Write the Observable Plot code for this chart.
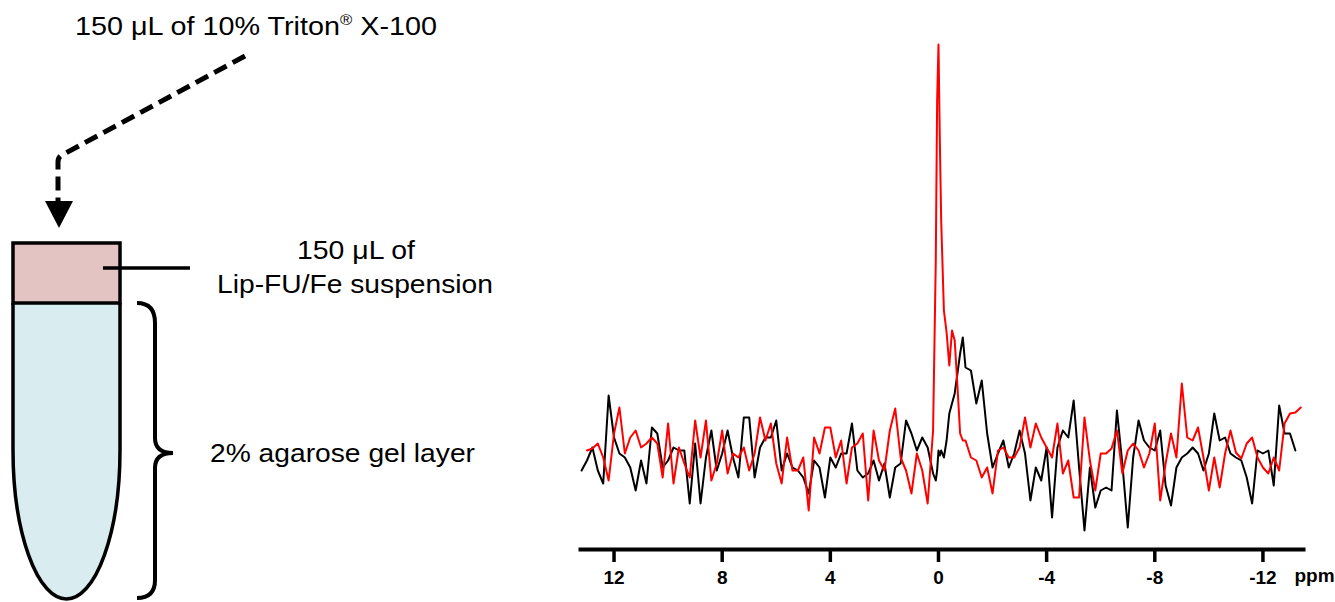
<!DOCTYPE html>
<html>
<head>
<meta charset="utf-8">
<script src="https://cdn.jsdelivr.net/npm/d3@7"></script>
<script src="https://cdn.jsdelivr.net/npm/@observablehq/plot@0.6"></script>
<style>
  html, body { margin: 0; padding: 0; background: #fff; }
  #wrap { position: relative; width: 1335px; height: 602px; overflow: hidden; }
  #chart, #diagram { position: absolute; left: 0; top: 0; }
  #diagram { pointer-events: none; }
  text { font-family: "Liberation Sans", Arial, Helvetica, sans-serif; }
</style>
</head>
<body>
<div id="wrap">
  <div id="chart"></div>
  <svg id="diagram" width="1335" height="602" xmlns="http://www.w3.org/2000/svg">
    <!-- tube body (agarose gel) -->
    <path d="M13,303 L13,450 A53.5,149 0 0 0 120,450 L120,303" fill="#d9ecef" stroke="#000" stroke-width="3.5"/>
    <!-- suspension layer -->
    <rect x="13" y="243" width="107" height="60" fill="#e4c3c3" stroke="#000" stroke-width="3.5"/>
    <!-- leader line -->
    <line x1="103" y1="268" x2="190" y2="268" stroke="#000" stroke-width="3.5"/>
    <!-- dashed arrow -->
    <path d="M245,56 L62,155 Q58,157 58,162 L58,201" fill="none" stroke="#000" stroke-width="5" stroke-dasharray="14 7"/>
    <polygon points="45,201 73,201 59,228" fill="#000"/>
    <!-- brace -->
    <path d="M137,303 Q155,303 155,323 L155,438 Q155,453 173,453 Q155,453 155,468 L155,580 Q155,598 137,598" fill="none" stroke="#000" stroke-width="4"/>
    <!-- labels -->
    <text x="75" y="35" font-size="26" textLength="362" lengthAdjust="spacingAndGlyphs">150 μL of 10% Triton<tspan font-size="15" dy="-10">®</tspan><tspan dy="10"> X-100</tspan></text>
    <text x="297" y="259" font-size="26" textLength="118" lengthAdjust="spacingAndGlyphs">150 μL of</text>
    <text x="217" y="293" font-size="26" textLength="276" lengthAdjust="spacingAndGlyphs">Lip-FU/Fe suspension</text>
    <text x="210" y="462" font-size="26" textLength="265" lengthAdjust="spacingAndGlyphs">2% agarose gel layer</text>
  </svg>
</div>
<script>
// Chemical shift axis (ppm), shared by both spectra
const ppm = [
  13.2, 13.0, 12.8, 12.6, 12.4, 12.2, 12.0, 11.8, 11.6, 11.4,
  11.2, 11.0, 10.8, 10.6, 10.4, 10.2, 10.0, 9.8, 9.6, 9.4,
  9.2, 9.0, 8.8, 8.6, 8.4, 8.2, 8.0, 7.8, 7.6, 7.4,
  7.2, 7.0, 6.8, 6.6, 6.4, 6.2, 6.0, 5.8, 5.6, 5.4,
  5.2, 5.0, 4.8, 4.6, 4.4, 4.2, 4.0, 3.8, 3.6, 3.4,
  3.2, 3.0, 2.8, 2.6, 2.4, 2.2, 2.0, 1.8, 1.6, 1.4,
  1.2, 1.0, 0.8, 0.6, 0.4, 0.2, 0.1, 0.05, 0.0, -0.05,
  -0.1, -0.2, -0.3, -0.4, -0.5, -0.6, -0.7, -0.8, -0.9, -1.0,
  -1.2, -1.4, -1.6, -1.8, -2.0, -2.2, -2.4, -2.6, -2.8, -3.0,
  -3.2, -3.4, -3.6, -3.8, -4.0, -4.2, -4.4, -4.6, -4.8, -5.0,
  -5.2, -5.4, -5.6, -5.8, -6.0, -6.2, -6.4, -6.6, -6.8, -7.0,
  -7.2, -7.4, -7.6, -7.8, -8.0, -8.2, -8.4, -8.6, -8.8, -9.0,
  -9.2, -9.4, -9.6, -9.8, -10.0, -10.2, -10.4, -10.6, -10.8, -11.0,
  -11.2, -11.4, -11.6, -11.8, -12.0, -12.2, -12.4, -12.6, -12.8, -13.0,
  -13.2, -13.4
];

// Black spectrum intensity (arbitrary units)
const blackSpectrum = [
  -10, 0, 13, -10, -23, 65, 23, 7, 3, -7,
  -30, 0, -23, 33, 27, -7, 0, 13, 10, 10,
  -43, 17, -43, 3, 30, -10, 7, 30, 3, -17,
  43, 43, -17, 13, 23, 23, 40, -10, 7, -7,
  -10, -17, -33, 0, -7, -37, 3, -7, 7, 7,
  37, -10, -17, -13, 0, -20, -3, -37, -7, -3,
  40, 27, 10, 23, 13, -13, -20, -10, 10, 5,
  10, 3, 20, 47, 57, 67, 87, 107, 123, 93,
  90, 57, 80, 27, -7, 7, 20, -7, 7, 30,
  7, -40, -7, -20, 13, -57, 13, 30, 23, 60,
  -7, -70, -7, -47, -30, -27, -30, 50, -3, -67,
  3, 40, 20, 13, 10, 30, -25, -45, -7, 3,
  7, 13, 7, -10, 7, 47, 20, 23, 7, 3,
  0, -17, -43, 10, 7, 10, -25, 55, 27, 27,
  10, null
];

// Red spectrum intensity (arbitrary units)
const redSpectrum = [
  null, 10, 12, 17, 3, -20, 27, 53, 7, 23,
  30, 13, 17, 23, 17, -17, 37, -23, 13, -3,
  -17, 40, 3, 40, -20, -3, 30, -13, 7, 3,
  13, -10, 7, 43, 20, 37, -3, -23, 23, -10,
  -10, 3, -50, 23, 7, 33, 33, 3, 20, -23,
  13, 17, 27, -40, 30, 0, -10, 30, 52, 3,
  -10, -33, 7, -10, -43, 30, 200, 360, 416, 320,
  240, 150, 128, 95, 130, 120, 75, 27, 20, 20,
  3, 0, -17, -7, -33, 10, 13, 3, 3, 13,
  43, 13, 37, 23, 13, 3, 37, -13, 0, -37,
  -37, 43, 0, -30, 7, 7, 12, 30, -13, 10,
  17, 10, -7, 7, 37, -40, -3, 27, 3, 77,
  23, 20, 33, 3, -30, 3, -27, 7, 30, 8,
  2, 17, 23, 3, -7, -13, 3, -10, 37, 47,
  48, 53
];

const xTicks = [12, 8, 4, 0, -4, -8, -12];
const xUnit = "ppm";

const data = ppm.map((p, i) => ({ppm: p, black: blackSpectrum[i], red: redSpectrum[i]}));

const chart = Plot.plot({
  width: 1335,
  height: 602,
  marginLeft: 580,
  marginRight: 32,
  marginTop: 20,
  marginBottom: 53,
  style: {background: "transparent", fontFamily: "Liberation Sans, Arial, sans-serif", color: "#000"},
  x: {domain: [13.24, -13.5]},
  y: {domain: [0, 416], range: [460, 44], axis: null},
  marks: [
    Plot.frame({anchor: "bottom", strokeWidth: 4, stroke: "#000"}),
    Plot.axisX({ticks: xTicks, tickSize: 13, tickPadding: 8, strokeWidth: 3.5, fontSize: 19, fontWeight: "bold", tickFormat: d => String(d), label: null}),
    Plot.line(data, {x: "ppm", y: "black", stroke: "#000", strokeWidth: 2}),
    Plot.line(data, {x: "ppm", y: "red", stroke: "#ff0000", strokeWidth: 2}),
    Plot.text([xUnit], {text: d => d, frameAnchor: "bottom-right", dx: -9, dy: 32, textAnchor: "start", fontSize: 19, fontWeight: "bold"})
  ]
});
document.getElementById("chart").appendChild(chart);
</script>
</body>
</html>
